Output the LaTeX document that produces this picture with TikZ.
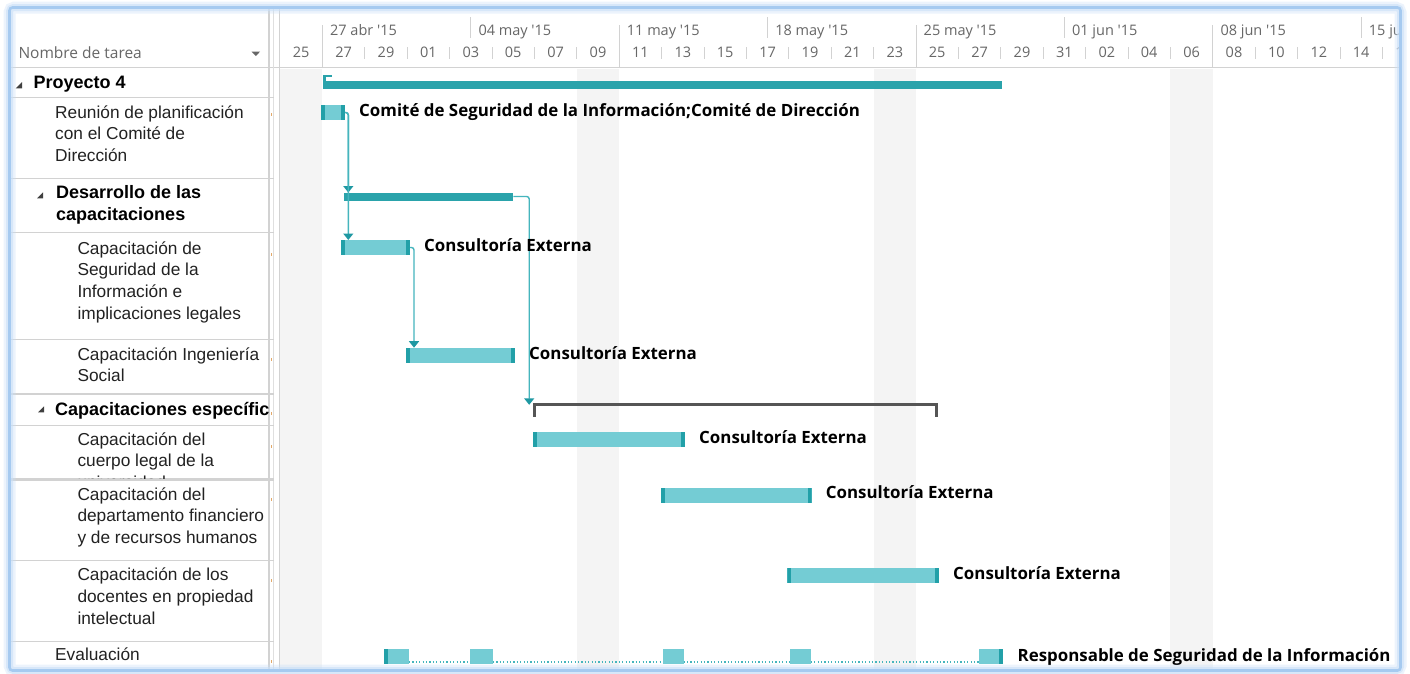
\documentclass[tikz,border=0pt]{standalone}
\usepackage{fontspec}
\setmainfont{Liberation Sans}
\newfontfamily\uifont{Open Sans}
\usetikzlibrary{arrows.meta,calc}

% palette
\definecolor{frameblue}{HTML}{A6CAF0}
\definecolor{frameglow}{HTML}{C9DFF7}
\definecolor{gridgray}{HTML}{D2D2D2}
\definecolor{shadecol}{HTML}{F4F4F4}
\definecolor{datetext}{HTML}{676767}
\definecolor{nametext}{HTML}{222222}
\definecolor{sumteal}{HTML}{2AA3AB}
\definecolor{barteal}{HTML}{74CCD4}
\definecolor{capteal}{HTML}{22A0A8}
\definecolor{linkteal}{HTML}{45B5BD}
\definecolor{tipteal}{HTML}{1E98A2}
\definecolor{bracketgray}{HTML}{555555}
\definecolor{flagcol}{HTML}{E2A868}
\definecolor{treegray}{HTML}{404040}

% multi-line cell text, baseline on the first line
\newcommand\rowtext[1]{\begin{tabular}[t]{@{}l@{}}#1\end{tabular}}

\begin{document}
\begin{tikzpicture}[x=1pt,y=-1pt,
  taskname/.style={inner sep=0pt, anchor=base west, text=nametext,
    font=\fontsize{17.3}{21.8}\selectfont},
  groupname/.style={inner sep=0pt, anchor=base west, text=black,
    font=\fontsize{18}{21.8}\selectfont\bfseries},
  colhead/.style={inner sep=0pt, anchor=base west, text=datetext,
    font=\uifont\fontsize{15.5}{18}\selectfont},
  weeklabel/.style={inner sep=0pt, anchor=base west, text=datetext,
    font=\uifont\fontsize{14.5}{17}\selectfont},
  daylabel/.style={inner sep=0pt, anchor=base, text=datetext,
    font=\uifont\fontsize{14.5}{17}\selectfont},
  barlabel/.style={inner sep=0pt, anchor=base west, text=black,
    font=\uifont\fontsize{16.9}{19}\selectfont\bfseries},
  barbase/.style={inner sep=0pt, outer sep=0pt, anchor=north west,
    minimum height=15pt},
  leftcap/.style={path picture={\fill[capteal] (path picture bounding box.north west)
      rectangle ([xshift=4pt]path picture bounding box.south west);}},
  rightcap/.style={path picture={\fill[capteal] ([xshift=-4pt]path picture bounding box.north east)
      rectangle (path picture bounding box.south east);}},
  taskbar/.style={barbase, fill=barteal,
    path picture={\fill[capteal] (path picture bounding box.north west)
      rectangle ([xshift=4pt]path picture bounding box.south west);
      \fill[capteal] ([xshift=-4pt]path picture bounding box.north east)
      rectangle (path picture bounding box.south east);}},
  splitbar/.style={barbase, fill=barteal, minimum height=14.5pt},
  sumbar/.style={inner sep=0pt, outer sep=0pt, anchor=north west,
    minimum height=8pt, fill=sumteal},
  link/.style={draw=linkteal, line width=1.4pt, rounded corners=2.5pt,
    -{Triangle[width=10pt,length=6.5pt,color=tipteal]}},
  splitdots/.style={draw=linkteal, line width=1.6pt, dash pattern=on 1.2pt off 2.2pt},
  gridline/.style={draw=gridgray, line width=1.2pt},
]
\useasboundingbox (0,0) rectangle (1410,673);
\fill[white] (0,0) rectangle (1410,673);

% non-working time bands
\foreach \xa in {280,576.8,873.6,1170.4}
  \fill[shadecol] (\xa,68.5) rectangle ({\xa+42.4},670);

% ---------- timescale header ----------
\begin{scope}
  \clip (280,8) rectangle (1399,67);
  \foreach \k in {1,...,26}
    \draw[gridline, line width=1pt] ({280+42.4*\k},47) -- ({280+42.4*\k},59);
  \foreach \xw in {322.4,619.2,916,1212.8}
    \draw[gridline, line width=1pt] (\xw,25) -- (\xw,67);
  \foreach \xw in {470.8,767.6,1064.4,1361.2}
    \draw[gridline, line width=1pt] (\xw,17) -- (\xw,38);
  \foreach \xw/\t [count=\i] in {322.4/27 abr '15, 470.8/04 may '15, 619.2/11 may '15,
      767.6/18 may '15, 916/25 may '15, 1064.4/01 jun '15, 1212.8/08 jun '15,
      1361.2/15 jun '15}
    \node[weeklabel] (week\i) at ({\xw+7.5},35) {\t};
  \foreach \d [count=\k from 0] in {25,27,29,01,03,05,07,09,11,13,15,17,19,21,23,
      25,27,29,31,02,04,06,08,10,12,14,16}
    \node[daylabel] (day\k) at ({301.2+42.4*\k},57) {\d};
\end{scope}

% header rule and pane separators
\draw[gridline] (10,67.5) -- (1400,67.5);
\draw[gridline] (269,8) -- (269,670);
\draw[draw=gridgray!70, line width=1pt] (273.5,8) -- (273.5,670);
\draw[gridline] (279.5,8) -- (279.5,670);

% ---------- task name column ----------
\node[colhead] (colname) at (18.3,58.3) {Nombre de tarea};
\fill[datetext] (251.7,51.7) -- (260,51.7) -- (255.85,56) -- cycle;

\foreach \yr in {97.7,178.3,232.7,339.3,394,425.7,560.7,641.7}
  \draw[gridline] (10,\yr) -- (273.5,\yr);
\draw[gridline, line width=2.6pt] (10,479.5) -- (273.5,479.5);

% small markers of the next column
\foreach \ym in {113,253,358,412,445,498,579,660}
  \fill[flagcol] (271,\ym) rectangle (272.3,\ym+2.5);

% outline triangles
\fill[treegray] (22,82) -- (22,88.3) -- (15.7,88.3) -- cycle;
\fill[treegray] (43,192.3) -- (43,198.3) -- (37,198.3) -- cycle;
\fill[treegray] (44,406.3) -- (44,412.3) -- (38,412.3) -- cycle;

\node[groupname] (n0) at (33.3,88.3) {Proyecto 4};
\node[taskname] (n1) at (55,118) {\rowtext{Reunión de planificación\\con el Comité de\\Dirección}};
\begin{scope}
  \clip (10,178.3) rectangle (268,232);
  \node[groupname] (n2) at (56,198.3) {\rowtext{Desarrollo de las\\capacitaciones}};
\end{scope}
\node[taskname] (n3) at (77.3,254) {\rowtext{Capacitación de\\Seguridad de la\\Información e\\implicaciones legales}};
\node[taskname] (n4) at (77.3,360) {\rowtext{Capacitación Ingeniería\\Social}};
\begin{scope}
  \clip (10,394) rectangle (268,425);
  \node[groupname] (n5) at (55,415) {Capacitaciones específicas};
\end{scope}
\begin{scope}
  \clip (10,425.7) rectangle (268,478);
  \node[taskname] (n6) at (77.3,445) {\rowtext{Capacitación del\\cuerpo legal de la\\universidad}};
\end{scope}
\node[taskname] (n7) at (77.3,500) {\rowtext{Capacitación del\\departamento financiero\\y de recursos humanos}};
\node[taskname] (n8) at (77.3,580.7) {\rowtext{Capacitación de los\\docentes en propiedad\\intelectual}};
\node[taskname] (n9) at (55,660.7) {Evaluación};

% ---------- bars ----------
\node[sumbar, minimum width=678.5pt] (p) at (323,80.5) {};
\fill[sumteal] (p.north west) rectangle ++(3,-6);
\fill[sumteal] ($(p.north west)+(0,-6)$) rectangle ++(8.5,2.2);

\node[taskbar, minimum width=24.3pt] (r) at (320.7,105) {};
\node[sumbar, minimum width=169.3pt] (ds) at (344,192.5) {};
\node[taskbar, minimum width=69pt] (c1) at (341,240) {};
\node[taskbar, minimum width=109.3pt] (c2) at (405.7,347.7) {};

% summary bracket of the specific trainings
\node[inner sep=0pt, outer sep=0pt, anchor=north west, minimum width=402.6pt,
  minimum height=12pt] (ce) at (534.2,404.8) {};
\draw[bracketgray, line width=3pt, line join=miter]
  (ce.south west) -- (ce.north west) -- (ce.north east) -- (ce.south east);

\node[taskbar, minimum width=152.3pt] (c3) at (532.7,432.3) {};
\node[taskbar, minimum width=151pt] (c4) at (660.7,487.7) {};
\node[taskbar, minimum width=151.7pt] (c5) at (787.3,568.3) {};

% split evaluation task
\node[splitbar, minimum width=25.5pt, leftcap] (e1) at (383.5,649) {};
\node[splitbar, minimum width=22.7pt] (e2) at (470.2,649) {};
\node[splitbar, minimum width=21pt] (e3) at (662.5,649) {};
\node[splitbar, minimum width=21.1pt] (e4) at (789.6,649) {};
\node[splitbar, minimum width=24pt, rightcap] (e5) at (979.4,649) {};
\draw[splitdots] ([yshift=1.8pt]e1.south east) -- ([yshift=1.8pt]e2.south west);
\draw[splitdots] ([yshift=1.8pt]e2.south east) -- ([yshift=1.8pt]e3.south west);
\draw[splitdots] ([yshift=1.8pt]e3.south east) -- ([yshift=1.8pt]e4.south west);
\draw[splitdots] ([yshift=1.8pt]e4.south east) -- ([yshift=1.8pt]e5.south west);

% ---------- dependencies ----------
\draw[link] (r.east) -| ($(ds.north west)+(4.3,0)$);
\draw[link] (r.east) -| ($(c1.north west)+(7.3,0)$);
\draw[link] (c1.east) -| ($(c2.north west)+(8.3,0)$);
\draw[link] (ds.east) -| ($(ce.north west)+(-5,0)$);

% ---------- resource labels ----------
\node[barlabel] (lr) at ($(r.east)+(14,4)$) {Comité de Seguridad de la Información;Comité de Dirección};
\node[barlabel] (l1) at ($(c1.east)+(14,4)$) {Consultoría Externa};
\node[barlabel] (l2) at ($(c2.east)+(14,4)$) {Consultoría Externa};
\node[barlabel] (l3) at ($(c3.east)+(14,4)$) {Consultoría Externa};
\node[barlabel] (l4) at ($(c4.east)+(14,3)$) {Consultoría Externa};
\node[barlabel] (l5) at ($(c5.east)+(14,4)$) {Consultoría Externa};
\node[barlabel] (l6) at ($(e5.east)+(14,5)$) {Responsable de Seguridad de la Información};

% ---------- window frame ----------
\draw[frameglow, line width=12pt, opacity=0.35, rounded corners=5pt] (9.5,7.5) rectangle (1400.5,670.5);
\draw[frameglow, line width=7pt, opacity=0.6, rounded corners=4pt] (9.5,7.5) rectangle (1400.5,670.5);
\draw[frameblue, line width=2.6pt, rounded corners=3pt] (9.5,7.5) rectangle (1400.5,670.5);
\end{tikzpicture}
\end{document}
